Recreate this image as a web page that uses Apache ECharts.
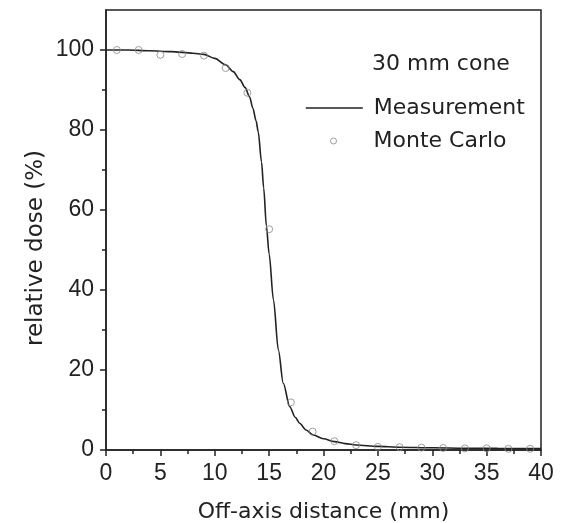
<!DOCTYPE html>
<html>
<head>
<meta charset="utf-8">
<script src="https://cdn.jsdelivr.net/npm/echarts@6/dist/echarts.min.js"></script>
<style>
  html, body { margin: 0; padding: 0; background: #fff; }
  #chart { width: 562px; height: 523px; }
</style>
</head>
<body>
<div id="chart"></div>
<script>
// measured profile (line)
var measX = [0, 2, 4, 6, 8, 9, 10, 11, 11.7, 12.3, 12.8, 13.2, 13.5, 13.8, 14, 14.3, 14.5, 14.75, 15, 15.4, 15.85, 16.3, 16.9, 17.4, 17.8, 18.4, 19, 20, 21, 22, 23, 25, 27, 30, 33, 36, 40];
var measY = [100, 100, 99.8, 99.6, 99.2, 98.9, 97.9, 96.3, 94.6, 92.6, 90.6, 88.3, 85.5, 82.3, 79.5, 72, 65.5, 56, 49, 37.5, 25, 16.7, 10.8, 8.2, 6.7, 5, 3.8, 2.8, 2.1, 1.6, 1.25, 0.9, 0.7, 0.55, 0.45, 0.4, 0.35];

// Monte Carlo points
var mcX = [1, 3, 5, 7, 9, 11, 13, 15, 17, 19, 21, 23, 25, 27, 29, 31, 33, 35, 37, 39];
var mcY = [100, 100, 98.8, 99, 98.6, 95.5, 89.3, 55.2, 11.9, 4.6, 2.2, 1.2, 0.8, 0.7, 0.6, 0.5, 0.4, 0.4, 0.3, 0.3];

var xTicks = [0, 5, 10, 15, 20, 25, 30, 35, 40];
var yTicks = [0, 20, 40, 60, 80, 100];

var font = 'DejaVu Sans, sans-serif';
var numFont = 'Liberation Sans, Arial, sans-serif';
var ink = '#222';

var chart = echarts.init(document.getElementById('chart'));

var option = {
    animation: false,
    backgroundColor: '#fff',
    textStyle: { fontFamily: font, color: ink },
    title: {
        text: '30 mm cone',
        left: 372,
        top: 53,
        padding: 0,
        textStyle: { fontFamily: font, fontSize: 22, fontWeight: 'normal', color: ink }
    },
    legend: [
        {
            data: ['Measurement'],
            left: 305,
            top: 97,
            padding: 0,
            itemWidth: 57,
            itemHeight: 14,
            itemStyle: { opacity: 0 },
            lineStyle: { color: ink, width: 1.6 },
            textStyle: { fontFamily: font, fontSize: 22, color: ink, padding: [0, 0, 0, 6] }
        },
        {
            data: [{ name: 'Monte Carlo', icon: 'circle' }],
            left: 330,
            top: 130,
            padding: 0,
            itemWidth: 6,
            itemHeight: 6,
            itemStyle: { color: '#fff', borderColor: '#888', borderWidth: 1 },
            textStyle: { fontFamily: font, fontSize: 22, color: ink, padding: [0, 0, 0, 32] }
        }
    ],
    grid: {
        left: 106,
        top: 10,
        width: 435,
        height: 440,
        outerBoundsMode: 'none',
        containLabel: false,
        show: true,
        borderColor: ink,
        borderWidth: 1.5,
        backgroundColor: 'transparent'
    },
    xAxis: {
        type: 'value',
        min: xTicks[0],
        max: xTicks[xTicks.length - 1],
        interval: 5,
        name: 'Off-axis distance (mm)',
        nameLocation: 'middle',
        nameGap: 51,
        nameMoveOverlap: false,
        nameTextStyle: { fontFamily: font, fontSize: 22, color: ink },
        axisLine: { show: true, lineStyle: { color: ink, width: 1.5 } },
        axisTick: { show: true, inside: false, length: 6, lineStyle: { color: ink, width: 1.5 } },
        minorTick: { show: true, splitNumber: 2, length: 4, lineStyle: { color: ink, width: 1.5 } },
        axisLabel: { fontFamily: numFont, fontSize: 23, color: ink, margin: 12 },
        splitLine: { show: false }
    },
    yAxis: {
        type: 'value',
        min: 0,
        max: 110,
        interval: 20,
        name: 'relative dose (%)',
        nameLocation: 'middle',
        nameGap: 58,
        nameMoveOverlap: false,
        nameTextStyle: { fontFamily: font, fontSize: 23, color: ink, padding: [0, 36, 0, 0] },
        axisLine: { show: true, lineStyle: { color: ink, width: 1.5 } },
        axisTick: { show: true, inside: false, length: 6, customValues: yTicks, lineStyle: { color: ink, width: 1.5 } },
        minorTick: { show: true, splitNumber: 2, length: 4, lineStyle: { color: ink, width: 1.5 } },
        axisLabel: {
            fontFamily: numFont, fontSize: 23, color: ink, margin: 12,
            customValues: yTicks
        },
        splitLine: { show: false }
    },
    series: [
        {
            name: 'Measurement',
            type: 'line',
            data: measX.map(function (x, i) { return [x, measY[i]]; }),
            symbol: 'none',
            smooth: 0.3,
            smoothMonotone: 'x',
            lineStyle: { color: ink, width: 1.6 },
            itemStyle: { color: ink },
            z: 2
        },
        {
            name: 'Monte Carlo',
            type: 'scatter',
            data: mcX.map(function (x, i) { return [x, mcY[i]]; }),
            symbol: 'circle',
            symbolSize: 7,
            itemStyle: { color: 'rgba(255,255,255,0)', borderColor: '#888', borderWidth: 1 },
            z: 3
        }
    ]
};

chart.setOption(option);
</script>
</body>
</html>
